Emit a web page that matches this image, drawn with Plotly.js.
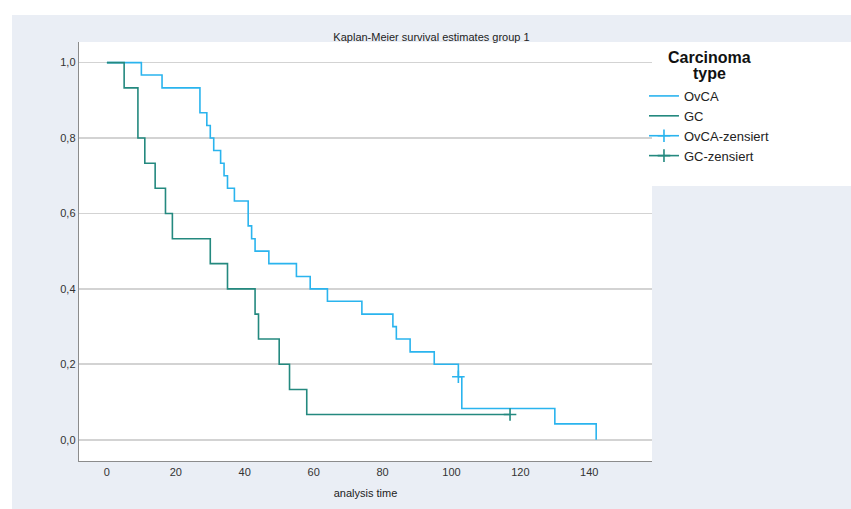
<!DOCTYPE html>
<html>
<head>
<meta charset="utf-8">
<script src="https://cdn.plot.ly/plotly-3.0.1.min.js"></script>
<style>
html,body{margin:0;padding:0;background:#ffffff;}
#chart{position:absolute;left:12px;top:15px;width:839px;height:494px;}
</style>
</head>
<body>
<div id="chart"></div>
<script>
// Kaplan-Meier step data (time, survival)
const ovcaTime = [0, 10, 16, 27, 29, 30, 31, 33, 34, 35, 37, 41, 42, 43, 47, 55, 59, 64, 74, 83, 84, 88, 95, 102, 103, 130, 142];
const ovcaSurv = [1.0, 0.967, 0.933, 0.867, 0.833, 0.8, 0.767, 0.733, 0.7, 0.667, 0.633, 0.567, 0.533, 0.5, 0.467, 0.433, 0.4, 0.367, 0.333, 0.3, 0.267, 0.233, 0.2, 0.167, 0.083, 0.042, 0.0];
const gcTime = [0, 5, 9, 11, 14, 17, 19, 30, 35, 43, 44, 50, 53, 58, 117];
const gcSurv = [1.0, 0.933, 0.8, 0.733, 0.667, 0.6, 0.533, 0.467, 0.4, 0.333, 0.267, 0.2, 0.133, 0.067, 0.067];
// censored observations
const ovcaCensTime = [102];
const ovcaCensSurv = [0.167];
const gcCensTime = [117];
const gcCensSurv = [0.067];
// axis ticks
const xTicks = [0, 20, 40, 60, 80, 100, 120, 140];
const yTicks = [0, 0.2, 0.4, 0.6, 0.8, 1.0];
const yTickText = ['0,0', '0,2', '0,4', '0,6', '0,8', '1,0'];
// legend heading
const legendHeading = ['Carcinoma', 'type'];

const cOv = '#2ab4ee';
const cGc = '#24897f';

const traces = [
  {x: ovcaTime, y: ovcaSurv, name: 'OvCA', mode: 'lines', line: {shape: 'hv', color: cOv, width: 1.6}},
  {x: gcTime, y: gcSurv, name: 'GC', mode: 'lines', line: {shape: 'hv', color: cGc, width: 1.6}},
  {x: ovcaCensTime, y: ovcaCensSurv, name: 'OvCA-zensiert', mode: 'lines+markers',
   line: {color: cOv, width: 1.6}, marker: {symbol: 'cross-thin', size: 9, line: {color: cOv, width: 1.6}}},
  {x: gcCensTime, y: gcCensSurv, name: 'GC-zensiert', mode: 'lines+markers',
   line: {color: cGc, width: 1.6}, marker: {symbol: 'cross-thin', size: 9, line: {color: cGc, width: 1.6}}}
];

const font = 'Arial, "Liberation Sans", sans-serif';

const layout = {
  width: 839, height: 494,
  margin: {l: 67, r: 199, t: 27, b: 48, pad: 0},
  paper_bgcolor: '#eaeef5',
  plot_bgcolor: '#ffffff',
  separators: ',.',
  font: {family: font, size: 11, color: '#333333'},
  title: {text: 'Kaplan-Meier survival estimates group 1', font: {size: 11, color: '#222222'},
          x: 0.5, xref: 'container', xanchor: 'center', y: 0.955, yref: 'container', yanchor: 'middle'},
  xaxis: {range: [-8.1, 158.2], tickvals: xTicks, showgrid: false, zeroline: false,
          showline: true, linecolor: '#8c8c8c', linewidth: 1.3, ticks: '',
          tickfont: {size: 11, color: '#333333'},
          title: {text: 'analysis time', font: {size: 11, color: '#222222'}, standoff: 12}},
  yaxis: {range: [-0.0564, 1.0546], tickvals: yTicks, ticktext: yTickText, showgrid: true,
          gridcolor: '#d3d3d3', gridwidth: 1.6, zeroline: false,
          showline: true, linecolor: '#8c8c8c', linewidth: 1.3, ticks: '',
          tickfont: {size: 11, color: '#333333'}},
  showlegend: true,
  legend: {x: 0.986, xanchor: 'left', y: 0.907, yanchor: 'top', bgcolor: 'rgba(0,0,0,0)',
           font: {size: 13, color: '#222222'}, itemwidth: 30, tracegroupgap: 0},
  annotations: [
    {text: '<b>' + legendHeading[0] + '</b>', xref: 'paper', yref: 'paper', x: 1.1012, y: 0.9642,
     xanchor: 'center', yanchor: 'middle', showarrow: false, font: {size: 16, color: '#111111'}},
    {text: '<b>' + legendHeading[1] + '</b>', xref: 'paper', yref: 'paper', x: 1.1012, y: 0.926,
     xanchor: 'center', yanchor: 'middle', showarrow: false, font: {size: 16, color: '#111111'}}
  ],
  shapes: [
    {type: 'rect', xref: 'paper', yref: 'paper', x0: 1.0, x1: 1.3473, y0: 0.6563, y1: 1.0,
     fillcolor: '#ffffff', line: {width: 0}, layer: 'below'}
  ]
};

Plotly.newPlot('chart', traces, layout, {displayModeBar: false, staticPlot: true});
</script>
</body>
</html>
